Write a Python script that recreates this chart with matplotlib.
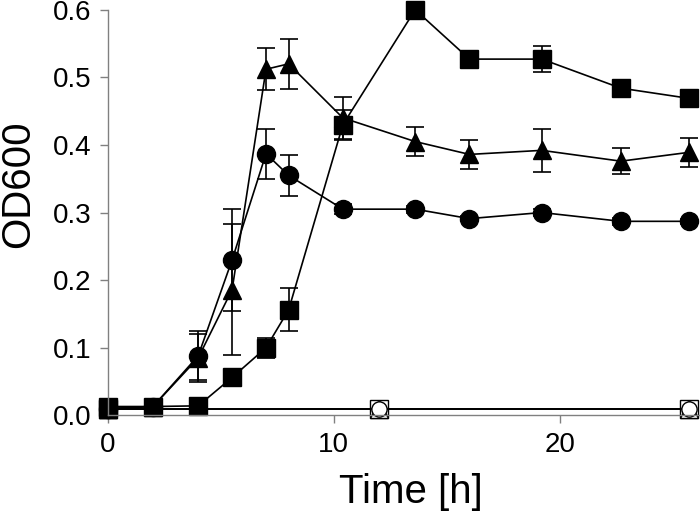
import matplotlib
matplotlib.use("Agg")
import matplotlib.pyplot as plt

plt.rcParams['font.family'] = ['Liberation Sans', 'DejaVu Sans']

# time points [h]
t = [0, 2, 4, 5.5, 7, 8, 10.4, 13.6, 16, 19.2, 22.7, 25.7]

sq = [0.013, 0.013, 0.014, 0.056, 0.100, 0.156, 0.430, 0.600, 0.527, 0.527, 0.484, 0.469]
sq_err = [0.004, 0.006, 0.004, 0.006, 0.015, 0.032, 0.022, 0.005, 0.005, 0.019, 0.006, 0.005]

tri = [0.010, 0.013, 0.085, 0.186, 0.512, 0.520, 0.440, 0.405, 0.386, 0.392, 0.376, 0.389]
tri_err = [0.003, 0.006, 0.035, 0.097, 0.031, 0.037, 0.031, 0.021, 0.021, 0.032, 0.019, 0.021]

circ = [0.010, 0.013, 0.088, 0.230, 0.387, 0.355, 0.305, 0.305, 0.291, 0.300, 0.287, 0.287]
circ_err = [0.003, 0.006, 0.036, 0.075, 0.037, 0.030, 0.007, 0.005, 0.004, 0.005, 0.005, 0.004]

# controls (open symbols)
t_ctrl = [0, 12, 25.7]
ctrl = [0.010, 0.010, 0.010]

fig = plt.figure(figsize=(7, 5.14), dpi=100)
ax = fig.add_axes([0.154, 0.192, 0.846, 0.789])

common = dict(color="black", lw=1.2, capsize=6.5, elinewidth=1.2, capthick=1.2, clip_on=False)
for y, e, m in [(circ, circ_err, "o"), (tri, tri_err, "^"), (sq, sq_err, "s")]:
    eb = ax.errorbar(t, y, yerr=e, marker=m, ms=13, mfc="black", mec="black", **common)
    for a in eb.lines[1] + eb.lines[2]:
        a.set_clip_on(False)

ax.plot(t_ctrl, ctrl, color="black", lw=1.2, marker="s", ms=13, mfc="white", mec="black", clip_on=False)
ax.plot(t_ctrl, ctrl, color="black", lw=1.2, marker="^", ms=13, mfc="white", mec="black", clip_on=False)
ax.plot(t_ctrl, ctrl, color="black", lw=1.2, marker="o", ms=11, mfc="white", mec="black", clip_on=False)

ax.set_xlim(0, 26.2)
ax.set_ylim(0, 0.6)
ax.set_xticks([0, 10, 20])
ax.set_yticks([0.0, 0.1, 0.2, 0.3, 0.4, 0.5, 0.6])
ax.set_yticklabels(["0.0", "0.1", "0.2", "0.3", "0.4", "0.5", "0.6"])

for s in ["top", "right"]:
    ax.spines[s].set_visible(False)
for s in ["left", "bottom"]:
    ax.spines[s].set_color("#808080")
    ax.spines[s].set_linewidth(1.0)
ax.tick_params(direction="out", length=6, width=1.0, color="#808080", labelsize=20, pad=6)

ax.set_xlabel("Time [h]", fontsize=29, va="center", ha="center")
ax.xaxis.set_label_coords(0.512, -0.19)
ax.set_ylabel("OD600", fontsize=29, va="center", ha="center")
ax.yaxis.set_label_coords(-0.152, 0.57)

fig.savefig("out.png", dpi=100)
